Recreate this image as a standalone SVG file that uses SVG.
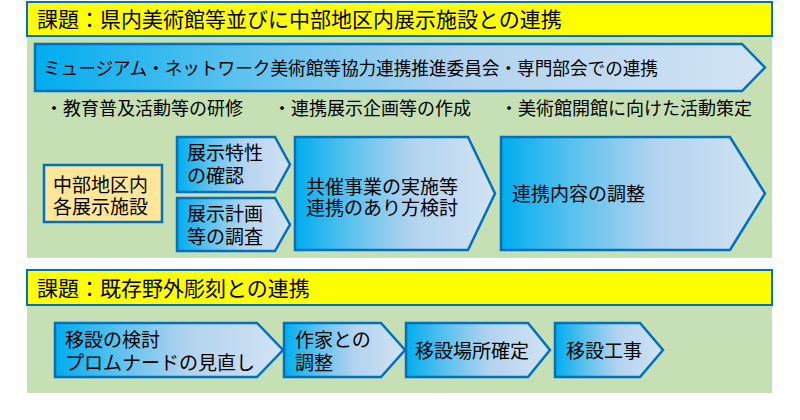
<svg xmlns="http://www.w3.org/2000/svg" width="800" height="420" viewBox="0 0 800 420">
<defs>
<linearGradient id="g" x1="0" y1="0" x2="1" y2="0">
<stop offset="0" stop-color="#00adef"/>
<stop offset="0.28" stop-color="#5cc2ee"/>
<stop offset="0.58" stop-color="#b2d3ef"/>
<stop offset="1" stop-color="#d2e3f4"/>
</linearGradient>
<style>
text{font-family:"Noto Sans CJK JP","Noto Sans CJK SC",sans-serif;fill:#000}
.t{font-size:21px}
.s{font-size:18px}
.m{font-size:19px}
.ban{fill:#ffff00;stroke:#0070c0;stroke-width:2}
.grn{fill:#c6e0b4}
.arr{fill:url(#g);stroke:#0070c0;stroke-width:2.5;stroke-linejoin:miter}
.box{fill:#ffe699;stroke:#0070c0;stroke-width:2.5}
</style>
</defs>
<rect width="800" height="420" fill="#ffffff"/>
<g id="section1">
<rect class="grn" x="27" y="36" width="745" height="222"/>
<rect class="ban" x="27" y="2" width="745" height="34"/>
<text class="t" x="37" y="27">課題：県内美術館等並びに中部地区内展示施設との連携</text>
</g>
<g id="network">
<polygon class="arr" points="35,44 742,44 765,67.5 742,91 35,91"/>
<text class="s" x="43" y="75" textLength="615" lengthAdjust="spacingAndGlyphs">ミュージアム・ネットワーク美術館等協力連携推進委員会・専門部会での連携</text>
</g>
<g id="bullets">
<text class="s" x="45" y="115">・教育普及活動等の研修</text>
<text class="s" x="273" y="115">・連携展示企画等の作成</text>
<text class="s" x="500" y="115">・美術館開館に向けた活動策定</text>
</g>
<g id="facilities">
<rect class="box" x="44" y="165" width="118" height="57"/>
<text class="m" y="192"><tspan x="53">中部地区内</tspan><tspan x="53" dy="22">各展示施設</tspan></text>
</g>
<g id="tokusei">
<polygon class="arr" points="177,137 275,137 290,164.5 275,192 177,192"/>
<text class="m" y="160"><tspan x="187">展示特性</tspan><tspan x="187" dy="23">の確認</tspan></text>
</g>
<g id="keikaku">
<polygon class="arr" points="177,198 275,198 290,224.5 275,251 177,251"/>
<text class="m" y="221"><tspan x="187">展示計画</tspan><tspan x="187" dy="23">等の調査</tspan></text>
</g>
<g id="kyosai">
<polygon class="arr" points="295,137 468,137 495,193.5 468,250 295,250"/>
<text class="m" y="194"><tspan x="306">共催事業の実施等</tspan><tspan x="306" dy="21">連携のあり方検討</tspan></text>
</g>
<g id="chosei">
<polygon class="arr" points="501,137 730,137 765,193.5 730,250 501,250"/>
<text class="m" x="512" y="201">連携内容の調整</text>
</g>
<g id="section2">
<rect class="grn" x="27" y="305" width="745" height="88"/>
<rect class="ban" x="27" y="270" width="745" height="35"/>
<text class="t" x="37" y="296">課題：既存野外彫刻との連携</text>
</g>
<g id="isetsu">
<polygon class="arr" points="55,323 257,323 283,350 257,377 55,377"/>
<text class="m" y="347"><tspan x="65">移設の検討</tspan><tspan x="65" dy="23">プロムナードの見直し</tspan></text>
</g>
<g id="sakka">
<polygon class="arr" points="284,323 381,323 405,350 381,377 284,377"/>
<text class="m" y="347"><tspan x="295">作家との</tspan><tspan x="295" dy="23">調整</tspan></text>
</g>
<g id="basho">
<polygon class="arr" points="406,323 528,323 550,350 528,377 406,377"/>
<text class="m" x="415" y="358">移設場所確定</text>
</g>
<g id="koji">
<polygon class="arr" points="555,323 640,323 663,350 640,377 555,377"/>
<text class="m" x="566" y="358">移設工事</text>
</g>
<g id="connectors"></g>
</svg>
